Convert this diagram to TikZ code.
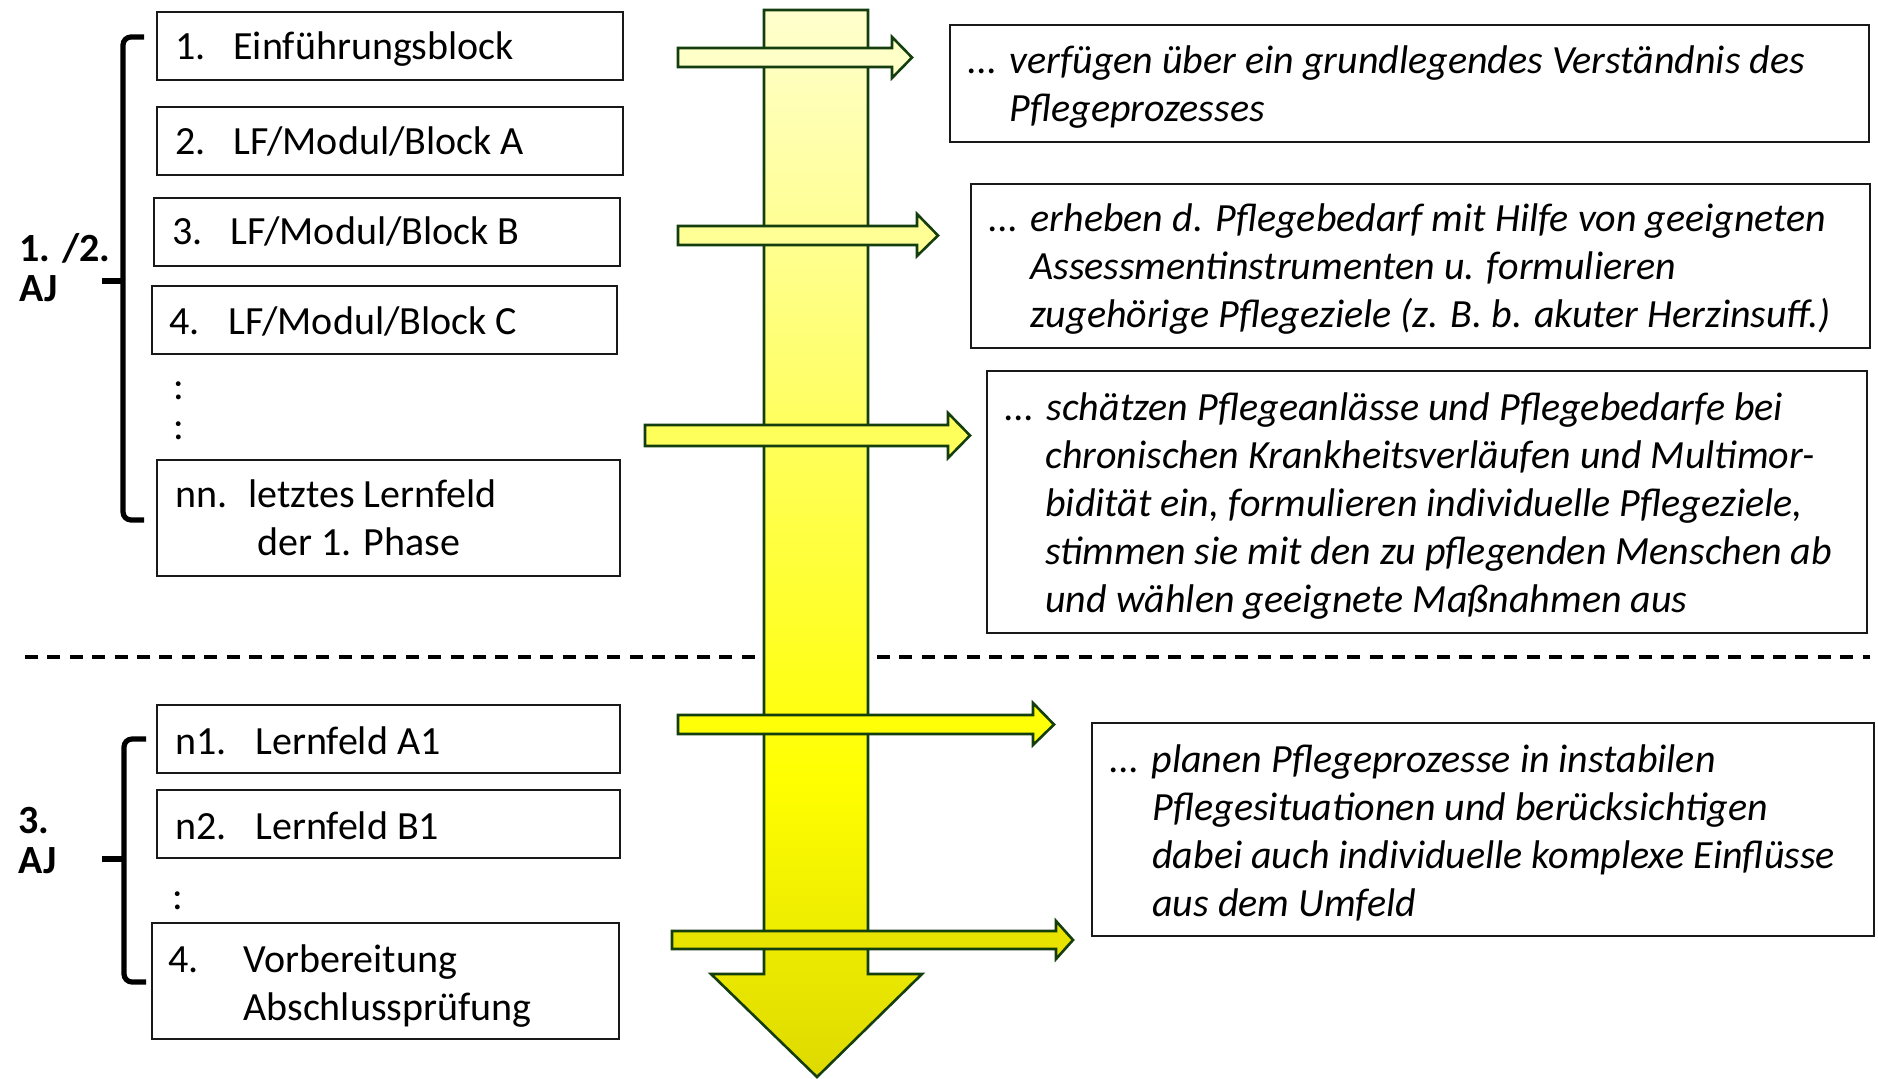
\documentclass[tikz,border=0pt]{standalone}
\usepackage{fontspec}
\setmainfont{Carlito}
\usetikzlibrary{fit}

\definecolor{frameblk}{RGB}{25,25,25}
\definecolor{arrline}{RGB}{20,62,14}
\definecolor{ylight}{RGB}{255,255,206}
\definecolor{ymid}{RGB}{255,255,0}
\definecolor{ydark}{RGB}{222,218,0}
\definecolor{fillA}{RGB}{255,255,200}
\definecolor{fillB}{RGB}{255,255,150}
\definecolor{fillC}{RGB}{255,255,92}
\definecolor{fillD}{RGB}{255,255,8}
\definecolor{fillE}{RGB}{232,228,0}

% gradient of the main arrow: pale at the top, full yellow low down, darker at the tip
\pgfdeclareverticalshading{bigshade}{100bp}{%
  color(0bp)=(ydark); color(25bp)=(ydark); color(38.9bp)=(ymid);
  color(75bp)=(ylight); color(100bp)=(ylight)}

% fixed-width slot for the item numbers in the left boxes
\newcommand\lfnum[2]{\makebox[#1][l]{#2}}
% left-aligned stack of lines, baseline at the first line
\newcommand\lines[1]{\begin{tabular}[t]{@{}l@{}}#1\end{tabular}}

\begin{document}
\begin{tikzpicture}[x=0.5pt,y=-0.5pt,
  frame/.style={draw=frameblk, line width=1.2pt, inner sep=0pt, fill=white},
  txt/.style={anchor=base west, inner sep=0pt, yshift=-1pt, font=\fontsize{20}{24}\selectfont},
  goal/.style={txt, yshift=0.5pt, font=\fontsize{20}{24}\selectfont\itshape},
  year/.style={anchor=base west, inner sep=0pt, font=\fontsize{20}{20}\selectfont\bfseries},
  brace/.style={draw=black, line width=2.6pt, rounded corners=4pt},
  sep/.style={draw=black, line width=1.6pt, dash pattern=on 6.5pt off 4.7pt},
  flow/.style={draw=arrline, line width=1.3pt, line join=miter}
]
\useasboundingbox (0,0) rectangle (1878,1079);

% ---------- main downward arrow with its gradient ----------
\shadedraw[flow, shading=bigshade]
  (764,10) -- (868,10) -- (868,974) -- (922,974) -- (817,1077)
  -- (711,974) -- (764,974) -- cycle;

% ---------- separator between the phases ----------
\path[sep] (25,657) -- (755,657);
\path[sep] (877,657) -- (1870,657);

% ---------- side arrows pointing to the competences ----------
\path[flow, fill=fillA] (678,48) -- (892,48) -- (892,37) -- (912,57.5)
  -- (892,78) -- (892,67) -- (678,67) -- cycle;
\path[flow, fill=fillB] (678,226) -- (917,226) -- (917,214) -- (938,235.5)
  -- (917,256) -- (917,245) -- (678,245) -- cycle;
\path[flow, fill=fillC] (645,425) -- (948,425) -- (948,413) -- (970,435.5)
  -- (948,458) -- (948,446) -- (645,446) -- cycle;
\path[flow, fill=fillD] (678,715) -- (1033,715) -- (1033,703) -- (1054,724.5)
  -- (1033,745) -- (1033,734) -- (678,734) -- cycle;
\path[flow, fill=fillE] (672,931) -- (1056,931) -- (1056,921) -- (1073,940)
  -- (1056,959) -- (1056,949) -- (672,949) -- cycle;

% ---------- year brackets ----------
\path[brace] (144,37) -- (123,37) -- (123,520) -- (144,520);
\path[brace, rounded corners=0pt] (102,281) -- (124,281);
\node[year] (aj12) at (19,262) {\lines{1. /2.\\AJ}};

\path[brace] (146,739) -- (124,739) -- (124,982) -- (146,982);
\path[brace, rounded corners=0pt] (102,859) -- (125,859);
\node[year] (aj3) at (18,833) {\lines{3.\\AJ}};

% ---------- learning fields, 1st/2nd year ----------
\node[frame, fit={(157,12)(623,80)}] (b1) {};
\node[txt] (t1) at (175,58) {\lfnum{29pt}{1.}Einführungsblock};
\node[frame, fit={(157,107)(623,175)}] (b2) {};
\node[txt] (t2) at (175,153) {\lfnum{29pt}{2.}LF/Modul/Block A};
\node[frame, fit={(154,198)(620,266)}] (b3) {};
\node[txt] (t3) at (172,243) {\lfnum{29pt}{3.}LF/Modul/Block B};
\node[frame, fit={(152,286)(617,354)}] (b4) {};
\node[txt] (t4) at (169,333) {\lfnum{29.5pt}{4.}LF/Modul/Block C};
\node[txt] (d1) at (173,398) {:};
\node[txt] (d2) at (173,438) {:};
\node[frame, fit={(157,460)(620,576)}] (bn) {};
\node[txt] (tn) at (175,506) {\lines{\lfnum{36.5pt}{nn.}letztes Lernfeld\\
  \hspace{41pt}der 1. Phase}};

% ---------- learning fields, 3rd year ----------
\node[frame, fit={(157,705)(620,773)}] (n1) {};
\node[txt] (tn1) at (175,752) {\lfnum{40pt}{n1.}Lernfeld A1};
\node[frame, fit={(157,790)(620,858)}] (n2) {};
\node[txt] (tn2) at (175,837) {\lfnum{40pt}{n2.}Lernfeld B1};
\node[txt] (d3) at (172,907) {:};
\node[frame, fit={(152,923)(619,1039)}] (ex) {};
\node[txt] (tex) at (168,970) {\lines{\lfnum{37.5pt}{4.}Vorbereitung\\
  \hspace{37.5pt}Abschlussprüfung}};

% ---------- competences ----------
\node[frame, fit={(950,25)(1869,142)}] (r1) {};
\node[goal] (g1) at (967,73) {\lines{... verfügen über ein grundlegendes Verständnis des\\
  \hspace{21pt}Pflegeprozesses}};

\node[frame, fit={(971,184)(1870,348)}] (r2) {};
\node[goal] (g2) at (988,231) {\lines{... erheben d. Pflegebedarf mit Hilfe von geeigneten\\
  \hspace{21pt}Assessmentinstrumenten u. formulieren\\
  \hspace{21pt}zugehörige Pflegeziele (z. B. b. akuter Herzinsuff.)}};

\node[frame, fit={(987,371)(1867,633)}] (r3) {};
\node[goal] (g3) at (1004,420) {\lines{... schätzen Pflegeanlässe und Pflegebedarfe bei\\
  \hspace{20.5pt}chronischen Krankheitsverläufen und Multimor-\\
  \hspace{20.5pt}bidität ein, formulieren individuelle Pflegeziele,\\
  \hspace{20.5pt}stimmen sie mit den zu pflegenden Menschen ab\\
  \hspace{20.5pt}und wählen geeignete Maßnahmen aus}};

\node[frame, fit={(1092,723)(1874,936)}] (r4) {};
\node[goal] (g4) at (1109,771) {\lines{... planen Pflegeprozesse in instabilen\\
  \hspace{21.5pt}Pflegesituationen und berücksichtigen\\
  \hspace{21.5pt}dabei auch individuelle komplexe Einflüsse\\
  \hspace{21.5pt}aus dem Umfeld}};
\end{tikzpicture}
\end{document}
